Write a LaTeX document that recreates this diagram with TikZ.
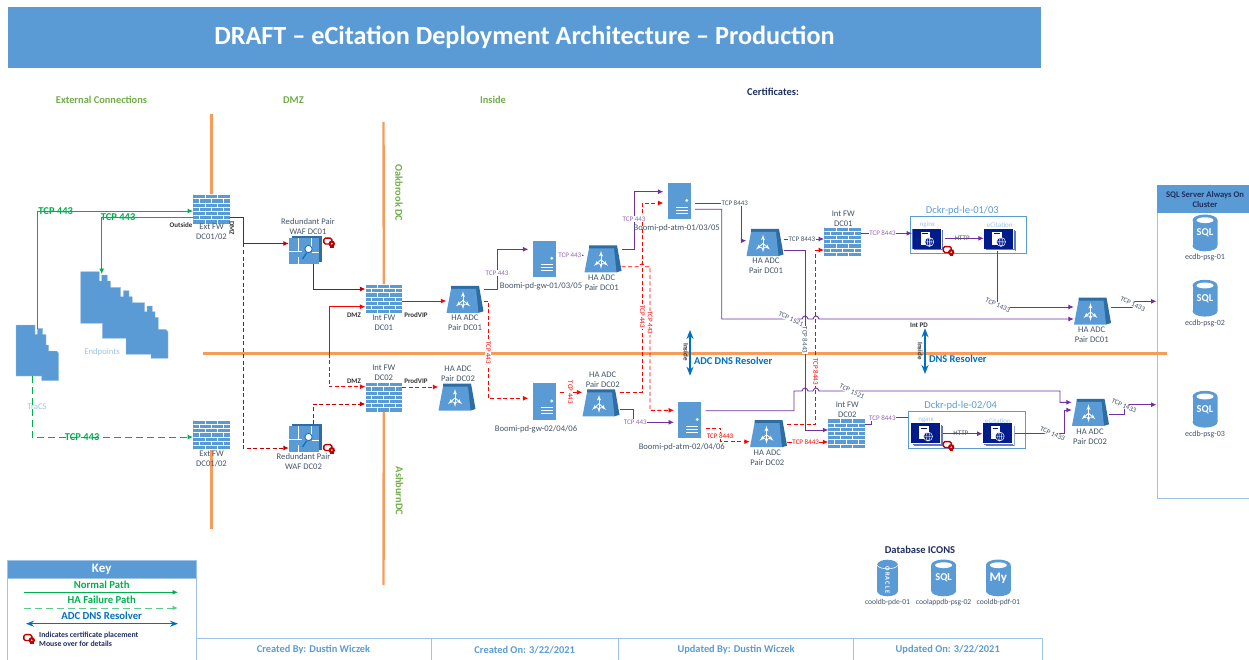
\documentclass[tikz,border=0pt]{standalone}
\usepackage{fontspec}
\setmainfont{Carlito}
\usepackage{tikz}
\usetikzlibrary{positioning}
\usetikzlibrary{arrows}
\usetikzlibrary{arrows.meta}
\definecolor{iconblue}{HTML}{5B9BD5}
\definecolor{darkblue}{HTML}{2E6DA4}
\definecolor{lightblue}{HTML}{9DC3E6}
\definecolor{slate}{HTML}{44546A}
\definecolor{navy}{HTML}{1F2F60}
\definecolor{tile}{HTML}{001C8C}
\definecolor{wan}{HTML}{F79B5B}
\definecolor{okgreen}{HTML}{00B050}
\definecolor{zonegreen}{HTML}{70AD47}
\definecolor{dnsblue}{HTML}{0070C0}
\definecolor{purp}{HTML}{7030A0}
\definecolor{wafred}{HTML}{C00000}
\tikzset{node distance=23.5pt, % caption below its icon
every edge/.style={ % straight links
draw,
->,>={Latex[length=5.5pt,width=5pt]},
line width=.9pt},
lnk/.style={line width=.9pt,>={Latex[length=5.5pt,width=5pt]}},
purple link/.style={lnk,purp},
red link/.style={lnk,red},
red dash/.style={lnk,red,dash pattern=on 4pt off 2.5pt},
waf link/.style={lnk,wafred},
waf dash/.style={lnk,wafred,dash pattern=on 4pt off 2.5pt},
green link/.style={lnk,okgreen},
green dash/.style={lnk,okgreen,dash pattern=on 7pt off 4pt},
wanline/.style={wan,line width=2.4pt},
dnsarrow/.style={<->,>={Stealth[length=9pt,width=7pt]},dnsblue,line width=1.4pt},
iconcap/.style={font=\fontsize{8.6}{10}\selectfont,text=slate,align=center,inner sep=0pt},
dbcap/.style={font=\fontsize{8}{10}\selectfont,text=slate,inner sep=0pt},
tinycap/.style={font=\fontsize{7.6}{9}\selectfont,text=slate,inner sep=0pt},
zone/.style={font=\fontsize{10.4}{12}\selectfont\bfseries,text=zonegreen,inner sep=0pt},
tag/.style={font=\fontsize{7}{8}\selectfont\bfseries,text=black!80,inner sep=0pt},
tcp/.style={font=\fontsize{7}{8}\selectfont,fill=white,inner sep=.6pt},
tcp purple/.style={tcp,text=purp!75!white},
tcp red/.style={tcp,text=red},
tcp slate/.style={tcp,text=slate},
tcp green/.style={font=\fontsize{10.5}{12}\selectfont\bfseries,text=okgreen,inner sep=0pt},
dnslabel/.style={font=\fontsize{10.4}{12}\selectfont\bfseries,text=dnsblue,fill=white,inner sep=0pt,outer sep=0pt},
firewall/.style={fill=iconblue,minimum width=36.5pt,minimum height=29.5pt,inner sep=0pt,path picture={
  \begin{scope}[shift={(path picture bounding box.center)},white,line width=.7pt]
    \foreach \r in {0,...,7} \draw (-19,-14.7+\r*4.2) -- (19,-14.7+\r*4.2);
    \foreach \r in {0,2,4,6} \foreach \c in {-6,6} \draw (\c,-14.7+\r*4.2) -- (\c,-10.5+\r*4.2);
    \foreach \r in {1,3,5} \foreach \c in {-12,0,12} \draw (\c,-14.7+\r*4.2) -- (\c,-10.5+\r*4.2);
  \end{scope}}},
adc/.style={minimum width=37pt,minimum height=27pt,inner sep=0pt,path picture={
  \begin{scope}[shift={(path picture bounding box.center)}]
    \fill[darkblue] (-14,-13.5) -- (14,-13.5) -- (18.5,12) -- (13.5,13.5) -- (-14,-10) -- cycle;
    \fill[iconblue] (-18.5,13.5) -- (-14,-10.5) -- (11,-10.5) -- (13.5,13.5) -- cycle;
    \draw[white,line width=.9pt,<->,>=latex'] (-2,-8) -- (-2,10);
    \draw[white,line width=.9pt,->,>=latex'] (-2,1) -- (-9,7);
    \draw[white,line width=.9pt,->,>=latex'] (-2,1) -- (5,7);
  \end{scope}}},
server/.style={fill=iconblue,minimum width=23pt,minimum height=36.5pt,inner sep=0pt,outer sep=4.3pt,path picture={
  \begin{scope}[shift={(path picture bounding box.center)},white,line width=.7pt]
    \fill[white!85!green] (7.5,-.5) circle (1.6pt);
    \foreach \r in {6,9,12} \draw (-3.5,\r) -- (8.5,\r);
  \end{scope}}},
waf/.style={minimum width=33pt,minimum height=28pt,inner sep=0pt,path picture={
  \begin{scope}[shift={(path picture bounding box.center)}]
    \fill[darkblue] (-13.8,-14) rectangle (16.5,11.7);
    \fill[iconblue] (-16.5,-11.7) rectangle (13.8,14);
    \draw[white,line width=.8pt] (-16.5,1.5) -- (-4,1.5) (6,2.5) -- (13.8,2.5) (-7,-11.7) -- (-7,1.5) (6,-11.7) -- (6,-1) (-7,7) -- (-7,14);
    \draw[dnsblue,line width=1.2pt] (-3,9) -- (1,3);
    \draw[dnsblue,fill=white,line width=.8pt] (3,-1) circle (3.6pt);
  \end{scope}}},
webtile/.style={minimum width=32pt,minimum height=22.5pt,inner sep=0pt,path picture={
  \begin{scope}[shift={(path picture bounding box.center)}]
    \fill[tile!60!white] (-13,-8.75) rectangle (16,11.25);
    \fill[white] (-13.6,-9.3) rectangle (15.4,10.7);
    \fill[tile!60!white] (-14.5,-10) rectangle (14.5,10);
    \fill[white] (-15,-10.6) rectangle (14,9.4);
    \fill[tile] (-16,-11.25) rectangle (13,8.75);
    \fill[white] (-7.7,-8.3) rectangle (1.6,4.8);
    \draw[tile!70!black,line width=.6pt] (-6,-6.3) -- (-.5,-6.3);
    \draw[white,fill=tile,line width=.5pt] (1,2) circle (4.5pt);
    \draw[white,line width=.4pt] (-3.5,2) -- (5.5,2) (1,-2.5) -- (1,6.5) (1,2) ellipse [x radius=2pt,y radius=4.5pt];
  \end{scope}}},
certmark/.style={minimum width=12.5pt,minimum height=10.5pt,inner sep=0pt,path picture={
  \begin{scope}[shift={(path picture bounding box.center)}]
    \draw[wafred,fill=white,line width=1.4pt,rounded corners=1.5pt] (-5.4,-4.4) rectangle (2.5,1.5);
    \fill[wafred] (2.5,1.2) circle (3.2pt);
    \fill[wafred] (.8,2) rectangle (4.6,5.3);
    \fill[white] (2.5,1.2) circle (.9pt);
  \end{scope}}},
dbcan/.style={minimum width=25pt,minimum height=37pt,inner sep=0pt,path picture={
  \begin{scope}[shift={(path picture bounding box.center)}]
    \fill[iconblue] (-12.5,-12.5) rectangle (12.5,12.5);
    \fill[iconblue] (0,-12.8) ellipse [x radius=12.5pt,y radius=5.7pt];
    \fill[iconblue] (0,12.8) ellipse [x radius=12.5pt,y radius=5.5pt];
    \fill[white] (0,-12.8) ellipse [x radius=8.5pt,y radius=2.9pt];
  \end{scope}}},
dbtext/.style={text=white,inner sep=0pt,font=\fontsize{10.5}{12}\selectfont\bfseries},
oraclecan/.style={minimum width=21pt,minimum height=37pt,inner sep=0pt,path picture={
  \begin{scope}[shift={(path picture bounding box.center)}]
    \fill[iconblue] (-10.5,-12.5) rectangle (10.5,12.5);
    \fill[iconblue] (0,-12.8) ellipse [x radius=10.5pt,y radius=5.5pt];
    \fill[iconblue] (0,12.8) ellipse [x radius=10.5pt,y radius=5.5pt];
    \draw[white,line width=.6pt] (-10.5,-12.8) .. controls (-8,-8) and (8,-8) .. (10.5,-12.8);
  \end{scope}}},
titlebar/.style={fill=iconblue,text=white,minimum width=1033pt,minimum height=61pt,inner sep=0pt,font=\fontsize{26.2}{30}\selectfont\bfseries},
keyhead/.style={fill=iconblue,draw=lightblue,text=white,minimum width=188.7pt,minimum height=18.3pt,inner sep=0pt,font=\fontsize{13}{15}\selectfont\bfseries},
keyframe/.style={draw=lightblue,line width=.9pt,minimum width=188.7pt,minimum height=110pt,inner sep=0pt},
keytext/.style={font=\fontsize{10.7}{12}\selectfont\bfseries,inner sep=0pt},
footcell/.style={draw=lightblue,line width=.9pt,minimum height=24pt,inner sep=0pt,text=iconblue,font=\fontsize{10.4}{12}\selectfont\bfseries},
dockerbox/.style={draw=iconblue,line width=.7pt,minimum width=116.5pt,minimum height=37.2pt,inner sep=0pt},
dockertitle/.style={font=\fontsize{10.5}{12}\selectfont,text=iconblue,inner sep=0pt},
tilecap/.style={font=\fontsize{7}{8}\selectfont,text=lightblue,inner sep=0pt},
sideheading/.style={font=\fontsize{10.5}{12}\selectfont\bfseries,text=navy,inner sep=0pt},
hostgroup/.style={font=\fontsize{8.7}{10}\selectfont,text=lightblue,inner sep=0pt}}
\begin{document}
\begin{tikzpicture}[x=1pt,y=-1pt]
	\useasboundingbox (0,0) rectangle (1249,660);

	\node[titlebar] (title) at (524.5,37.5) {DRAFT – eCitation Deployment Architecture – Production};
	\node[zone] (zext) at (101.5,100) {External Connections};
	\node[zone] (zdmz) at (293.5,100) {DMZ};
	\node[zone] (zin) at (493,100) {Inside};
	\node[sideheading] (certs) at (773,91.5) {Certificates:};
	\node[zone,rotate=-90] (oak) at (399,193) {Oakbrook DC};
	\node[zone,rotate=-90] (ash) at (399.5,491) {AshburnDC};

	% endpoints and TraCS
	\fill[iconblue,draw=lightblue,line width=.3pt] (80.7,271.7) -- (99.3,271.7) -- (99.3,281) -- (101.7,281) -- (101.7,275) -- (107.3,275) -- (107.3,281) -- (110.7,281) -- (110.7,287.3) -- (120.7,287.3) -- (120.7,296.7) -- (123.3,296.7) -- (123.3,290.7) -- (129,290.7) -- (129,296.7) -- (132.3,296.7) -- (132.3,302.7) -- (144.7,302.7) -- (144.7,311.7) -- (147,311.7) -- (147,306) -- (152.3,306) -- (152.3,311.7) -- (155,311.7) -- (155,317.3) -- (158.3,317.3) -- (158.3,329.3) -- (165.7,329.3) -- (168,331.7) -- (168,358.3) -- (151,358.3) -- (151,354.3) -- (126,354.3) -- (126,338.3) -- (102.3,338.3) -- (102.3,323.3) -- (80.7,323.3) -- cycle;
	\fill[iconblue,draw=lightblue,line width=.3pt] (16,325) -- (35,325) -- (35,334.3) -- (37.3,334.3) -- (37.3,328.3) -- (42.7,328.3) -- (42.7,334.3) -- (46,334.3) -- (46,345) -- (48.7,345) -- (48.7,351) -- (56.7,351) -- (58.7,353.3) -- (58.7,380.7) -- (41.7,380.7) -- (41.7,376) -- (16,376) -- cycle;
	\coordinate (endin) at (101.7,274);
	\coordinate (tracsup) at (37,329);
	\coordinate (tracsdown) at (32.3,376);

	\node[firewall] (extfwa) at (211.5,209.2) {};
	\node[firewall] (extfwb) at (211.5,434.8) {};
	\node[firewall] (intfwa) at (383.8,299) {};
	\node[firewall] (intfwb) at (383.8,397.2) {};
	\node[firewall] (intfwc) at (842.5,241.7) {};
	\node[firewall] (intfwd) at (846.7,433.5) {};

	\node[waf] (wafa) at (305.5,250) {};
	\node[waf] (wafb) at (305.5,438) {};

	\node[adc] (adca) at (465,299.3) {};
	\node[adc] (adcb) at (603,258.8) {};
	\node[adc] (adcc) at (765,242.5) {};
	\node[adc] (adcd) at (457,397) {};
	\node[adc] (adce) at (601,402.8) {};
	\node[adc] (adcf) at (768.5,433.7) {};
	\node[adc] (adcg) at (1092.5,311) {};
	\node[adc] (adch) at (1090.5,412.3) {};

	\node[server] (gwa) at (544.2,258.8) {};
	\node[server] (atma) at (679.2,201) {};
	\node[server] (gwb) at (544.2,401.5) {};
	\node[server] (atmb) at (689.8,420) {};

	\node[dockerbox] (dockera) at (968.5,234.8) {};
	\node[dockerbox] (dockerb) at (967,430) {};
	\node[webtile] (nginxa) at (928.3,239.9) {};
	\node[webtile] (ecita) at (1000,239.9) {};
	\node[webtile] (nginxb) at (927,434.5) {};
	\node[webtile] (ecitb) at (998.7,434.5) {};

	% SQL cluster
	\node[draw=lightblue,line width=.9pt,minimum width=96pt,minimum height=313pt,inner sep=0pt] (sqlbox) at (1205,341.7) {};
	\node[fill=iconblue,minimum width=96pt,minimum height=28.3pt,inner sep=0pt,text=navy,align=center,font=\fontsize{8.6}{9.8}\selectfont\bfseries] (sqlhead) at (1205,199.2) {SQL Server Always On\\Cluster};
	\node[dbcan] (dba) at (1205,233) {};
	\node[dbtext] (sqla) at (dba) {SQL};
	\node[dbcan] (dbb) at (1205,298.3) {};
	\node[dbtext] (sqlb) at (dbb) {SQL};
	\node[dbcan] (dbc) at (1205,409.3) {};
	\node[dbtext] (sqlc) at (dbc) {SQL};
	\node[oraclecan] (dbo) at (887.5,578) {};
	\node[dbtext,font=\fontsize{6.5}{8}\selectfont\bfseries,rotate=-90] (oracle) at (887.5,580) {O\,R\,A\,C\,L\,E};
	\node[dbcan] (dbs) at (943.6,578) {};
	\node[dbtext] (sqld) at (dbs) {SQL};
	\node[dbcan] (dbm) at (998.3,578) {};
	\node[dbtext,font=\fontsize{13}{15}\selectfont\bfseries] (mysql) at (dbm) {My};

	% boundaries
	\coordinate (dmztop) at (211.5,114);
	\coordinate (dmzend) at (211.5,529);
	\coordinate (oaktop) at (383.5,122);
	\coordinate (ashend) at (383.5,585);
	\coordinate (dnswest) at (203,353.5);
	\coordinate (dnseast) at (1167,353.5);
	\draw[wanline] (dmztop) -- (extfwa.north);
	\draw[wanline] (extfwb.south) -- (dmzend);
	\draw[wanline] (oaktop) -- (intfwa.north);
	\draw[wanline] (intfwb.south) -- (ashend);
	\draw[wanline] (dnswest) -- (dnseast);

	% green paths
	\draw[green link,->] (tracsup) -- (37,211) -- node[tcp green,pos=.12] (t1) {TCP 443} (extfwa.west |- 0,211);
	\draw[green link,->] (extfwa.west |- 0,217) -- node[tcp green,pos=.82] (t2) {TCP 443} (101.7,217) -- (endin);
	\draw[green dash,->] (tracsdown) -- (32.3,437) -- node[tcp green,pos=.31] (t3) {TCP 443} (extfwb.west |- 0,437);

	% waf paths
	\draw[waf link,->] (extfwa.east |- 0,217) -- (243,217) -- (243,243.5) -- (wafa.west |- 0,243.5);
	\draw[waf dash,->] (243,243.5) -- (243,448) -- (wafb.west |- 0,448);
	\draw[waf link,->] (313,264) -- (313,289) -- (intfwa.west |- 0,289);
	\draw[waf dash,->] (313,424) -- (313,404) -- (intfwb.west |- 0,404);
	\draw[red link,->] (329,353.5) -- (329,306.7) -- (intfwa.west |- 0,306.7);
	\draw[red dash,->] (329,353.5) -- (329,386.7) -- (intfwb.west |- 0,386.7);
	\draw (intfwa.east |- 0,301) edge[red link] (adca.west |- 0,301);
	\draw (intfwb.east |- 0,387) edge[red dash] (adcd.west |- 0,387);

	% gw and atm paths
	\draw[red dash,->] (adce.east |- 0,392.3) -- (642.3,392.3) -- node[tcp red,rotate=-90,pos=.4] (t10) {TCP 443} (642.3,203) -- (atma.west |- 0,203);
	\draw[purple link,->] (adca.east |- 0,289.5) -- (497,289.5) -- node[tcp purple,pos=.41] (t4) {TCP 443} (497,249.3) -- (gwa.west |- 0,249.3);
	\draw[red dash,->] (adca.east |- 0,301) -- (488.3,301) -- node[tcp red,rotate=-90,pos=.53] (t5) {TCP 443} (488.3,398.3) -- (gwb.west |- 0,398.3);
	\draw (gwa.east |- 0,255.3) edge[purple link] node[tcp purple,pos=.4] (t6) {TCP 443} (adcb.west |- 0,255.3);
	\draw (gwb.east |- 0,392.3) edge[red dash] node[tcp red,rotate=-90,pos=.46] (t7) {TCP 443} (adce.west |- 0,392.3);
	\draw[purple link,->] (adcb.east |- 0,249.3) -- (634,249.3) -- node[tcp purple,pos=.52] (t8) {TCP 443} (634,191.7) -- (atma.west |- 0,191.7);
	\draw[red dash,->] (adcb.east |- 0,266.7) -- (639,266.7) .. controls (640,263) and (644,263) .. (645,266.7) -- (650,266.7) -- node[tcp red,rotate=-90,pos=.39] (t9) {TCP 443} (650,410.3) -- (atmb.west |- 0,410.3);
	\draw[purple link,->] (adce.east |- 0,409.7) -- (633.3,409.7) -- (633.3,422.3) -- node[tcp purple,pos=.05] (t11) {TCP 443} (atmb.west |- 0,422.3);

	% atm to the right
	\draw[purple link,->] (atma.east |- 0,203.3) -- node[tcp slate,pos=.85] (t12) {TCP 8443} (741.7,203.3) -- (741.7,240.7) -- (adcc.west |- 0,240.7);
	\draw[purple link,->] (atma.east |- 0,209.3) -- (721.7,209.3) -- (721.7,319) -- (802,319) .. controls (803,315) and (807,315) .. (808,319) -- (813,319) .. controls (814,315) and (818,315) .. (819,319) -- (adcg.west |- 0,319);
	\draw (adcc.east |- 0,239) edge[purple link] node[tcp slate,pos=.45] (t13) {TCP 8443} (intfwc.west |- 0,239);
	\draw[purple link,->] (adcc.east |- 0,250) -- (805,250) -- node[tcp slate,rotate=-90,pos=.5] (t14) {TCP 8443} (805,430) -- (intfwd.west |- 0,430);
	\draw[red dash,->] (adcf.east |- 0,424) -- (815.7,424) -- node[tcp red,rotate=-90,pos=.3] (t15) {TCP 8443} (815.7,250) -- (intfwc.west |- 0,250);
	\draw (adcf.east |- 0,442) edge[red link] node[tcp red,pos=.45] (t16) {TCP 8443} (intfwd.west |- 0,442);
	\draw[red dash,->] (atmb.east |- 0,428) -- (720.7,428) -- (720.7,441.7) -- (adcf.west |- 0,441.7);
	\node[tcp red] (t17) at (720,436.3) {TCP 8443};
	\draw[purple link,->] (atmb.east |- 0,410.7) -- (794,410.7) -- (794,391) -- (802,391) .. controls (803,387) and (807,387) .. (808,391) -- (813,391) .. controls (814,387) and (818,387) .. (819,391) -- (1060,391) -- (1060,402.3) -- (adch.west |- 0,402.3);
	\node[tcp slate,rotate=-25] (t18) at (791,319) {TCP 1521};
	\node[tcp slate,rotate=-25] (t19) at (852,391.5) {TCP 1521};

	% web tier
	\draw (intfwc.east |- 0,233.3) edge[purple link] node[tcp purple,pos=.42] (t20) {TCP 8443} (nginxa.west |- 0,233.3);
	\draw[purple link] (intfwd.east |- 0,424) -- (871.7,424) -- (871.7,417.7) -- node[tcp purple,pos=.29] (t21) {TCP 8443} (dockerb.west |- 0,417.7);
	\draw (nginxa.east |- 0,238.3) edge[purple link] node[tcp slate,fill=none,pos=.45] (t22) {HTTP} (ecita.west |- 0,238.3);
	\draw (nginxb.east |- 0,433.7) edge[purple link] node[tcp slate,fill=none,pos=.45] (t23) {HTTP} (ecitb.west |- 0,433.7);
	\draw[purple link,->] (997.7,251) -- node[tcp slate,rotate=-25,pos=.97] (t24) {TCP 1433} (997.7,307) -- (adcg.west |- 0,307);
	\draw[purple link,->] (ecitb.east |- 0,433.7) -- node[tcp slate,rotate=-25,pos=.76] (t25) {TCP 1433} (1064.3,433.7) -- (1064.3,410) -- (adch.west |- 0,410);
	\draw[purple link,->] (adcg.east |- 0,307) -- (1132.7,307) -- node[tcp slate,rotate=-25,pos=.5] (t26) {TCP 1433} (1132.7,301.3) -- (sqlbox.west |- 0,301.3);
	\draw[purple link,->] (adch.east |- 0,414.3) -- (1124,414.3) -- node[tcp slate,rotate=-25,pos=.9] (t27) {TCP 1433} (1124,404.7) -- (sqlbox.west |- 0,404.7);

	% dns resolvers
	\node[dnslabel,anchor=west] (dnsa) at (694,360.7) {ADC DNS Resolver};
	\node[dnslabel,anchor=west] (dnsb) at (929,358.7) {DNS Resolver};
	\coordinate (dnsatop) at (690,330);
	\coordinate (dnsabot) at (690,375.7);
	\coordinate (dnsbtop) at (925,328.3);
	\coordinate (dnsbbot) at (925,374);
	\draw[dnsarrow] (dnsatop) -- (dnsabot);
	\draw[dnsarrow] (dnsbtop) -- (dnsbbot);
	\node[tag,rotate=-90] (ina) at (686,352) {Inside};
	\node[tag,rotate=-90] (inb) at (920.3,351) {Inside};
	\node[tag] (intpd) at (919,325.7) {Int PD};

	% certificates
	\node[certmark] (certa) at (329.3,242.5) {};
	\node[certmark] (certb) at (329.3,449) {};
	\node[certmark] (certc) at (948.7,251) {};
	\node[certmark] (certd) at (948.7,446) {};

	% captions
	\node[iconcap, below of=extfwa, node distance=23.1pt] (capa) {Ext FW\\DC01/02};
	\node[iconcap, below of=extfwb, node distance=23.7pt] (capb) {Ext FW\\DC01/02};
	\node[iconcap, below of=intfwa] (capc) {Int FW\\DC01};
	\node[iconcap, above of=intfwb, node distance=24.4pt] (capd) {Int FW\\DC02};
	\node[iconcap, above of=intfwc, node distance=22.9pt, xshift=.8pt] (cape) {Int FW\\DC01};
	\node[iconcap, above of=intfwd, xshift=.6pt] (capf) {Int FW\\DC02};
	\node[iconcap, above of=wafa, xshift=2.5pt] (capg) {Redundant Pair\\WAF DC01};
	\node[iconcap, below of=wafb, node distance=23.3pt, xshift=-2pt] (caph) {Redundant Pair\\WAF DC02};
	\node[iconcap, below of=adca, node distance=23.2pt] (capi) {HA ADC\\Pair DC01};
	\node[iconcap, below of=adcb, xshift=-1.3pt] (capj) {HA ADC\\Pair DC01};
	\node[iconcap, below of=adcc, xshift=1pt] (capk) {HA ADC\\Pair DC01};
	\node[iconcap, above of=adcd, node distance=22.8pt, xshift=1pt] (capl) {HA ADC\\Pair DC02};
	\node[iconcap, above of=adce, node distance=22.8pt, xshift=1.7pt] (capm) {HA ADC\\Pair DC02};
	\node[iconcap, below of=adcf, node distance=23.8pt, xshift=-1.2pt] (capn) {HA ADC\\Pair DC02};
	\node[iconcap, below of=adcg, xshift=-.8pt] (capo) {HA ADC\\Pair DC01};
	\node[iconcap, below of=adch, node distance=24pt, xshift=-.5pt] (capp) {HA ADC\\Pair DC02};
	\node[iconcap, below of=gwa, node distance=27.5pt, xshift=-3.2pt] (capq) {Boomi-pd-gw-01/03/05};
	\node[iconcap, below of=atma, node distance=27.3pt, xshift=-2.5pt] (capr) {Boomi-pd-atm-01/03/05};
	\node[iconcap, below of=gwb, node distance=27.5pt, xshift=-8.2pt] (caps) {Boomi-pd-gw-02/04/06};
	\node[iconcap, below of=atmb, node distance=27.3pt, xshift=-8pt] (capt) {Boomi-pd-atm-02/04/06};
	\node[dbcap, below of=dba, node distance=24.7pt] (capu) {ecdb-psg-01};
	\node[dbcap, below of=dbb, node distance=25pt] (capv) {ecdb-psg-02};
	\node[dbcap, below of=dbc, node distance=25.4pt] (capw) {ecdb-psg-03};
	\node[tinycap, below of=dbo, node distance=24.7pt] (capx) {cooldb-pde-01};
	\node[tinycap, below of=dbs, node distance=24.7pt] (capy) {coolappdb-psg-02};
	\node[tinycap, below of=dbm, node distance=24.7pt] (capz) {cooldb-pdf-01};
	\node[sideheading] (dbicons) at (920,549.7) {Database ICONS};

	\node[dockertitle] (dockeratitle) at (962.3,210.3) {Dckr-pd-le-01/03};
	\node[dockertitle] (dockerbtitle) at (960.7,405.7) {Dckr-pd-le-02/04};
	\node[tilecap] (tnginxa) at (927.3,224.7) {nginx};
	\node[tilecap] (tecita) at (999.7,224.7) {eCitation};
	\node[tilecap] (tnginxb) at (926,420) {nginx};
	\node[tilecap] (tecitb) at (998,420.7) {eCitation};

	\node[hostgroup] (endpoints) at (102,352) {Endpoints};
	\node[hostgroup] (tracs) at (37,406.3) {TraCS};

	\node[tag,anchor=east] (outside) at (192.5,225) {Outside};
	\node[tag,rotate=-90] (dmzext) at (232,228) {DMZ};
	\node[tag] (dmza) at (354,315) {DMZ};
	\node[tag] (dmzb) at (354,381) {DMZ};
	\node[tag] (vipa) at (416,315) {ProdVIP};
	\node[tag] (vipb) at (416,381) {ProdVIP};

	% key
	\node[keyframe] (keybox) at (101.7,615) {};
	\node[keyhead] (keytitle) at (101.7,569.2) {Key};
	\node[keytext,text=okgreen] (keynormal) at (101.7,584.7) {Normal Path};
	\node[keytext,text=okgreen] (keyha) at (101.7,600) {HA Failure Path};
	\node[keytext,text=dnsblue] (keydns) at (101.7,615.7) {ADC DNS Resolver};
	\coordinate (kna) at (24.3,592.3);
	\coordinate (knb) at (178,592.3);
	\coordinate (kha) at (24.3,608);
	\coordinate (khb) at (178,608);
	\coordinate (kda) at (26,623.7);
	\coordinate (kdb) at (178,623.7);
	\draw[green link,->] (kna) -- (knb);
	\draw[green dash,okgreen!65!white,->] (kha) -- (khb);
	\draw[dnsblue,line width=1.1pt,<->,>={Stealth[length=8pt,width=6pt]}] (kda) -- (kdb);
	\node[certmark] (certkey) at (29.3,639) {};
	\node[font=\fontsize{7.8}{9}\selectfont\bfseries,text=navy,align=left,inner sep=0pt,anchor=west] (keycert) at (39,638.8) {Indicates certificate placement\\Mouse over for details};

	% footer
	\node[footcell,minimum width=235pt] (foota) at (313.5,650) {Created By: Dustin Wiczek};
	\node[footcell,minimum width=187.5pt] (footb) at (524.7,650) {Created On: 3/22/2021};
	\node[footcell,minimum width=235pt] (footc) at (736,650) {Updated By: Dustin Wiczek};
	\node[footcell,minimum width=188.5pt] (footd) at (947.7,650) {Updated On: 3/22/2021};
\end{tikzpicture}
\end{document}
